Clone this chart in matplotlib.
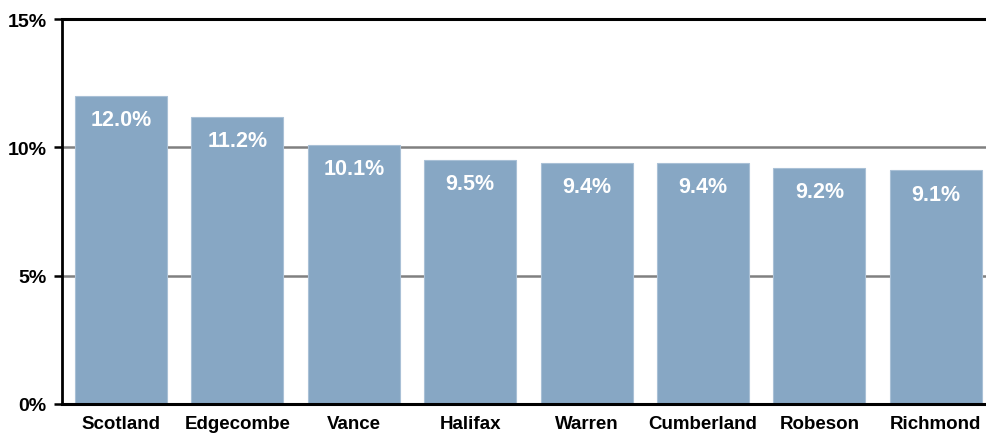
import matplotlib
matplotlib.use("Agg")
import matplotlib.pyplot as plt
from matplotlib.ticker import FuncFormatter

counties = ["Scotland", "Edgecombe", "Vance", "Halifax", "Warren", "Cumberland", "Robeson", "Richmond"]
rates = [12.0, 11.2, 10.1, 9.5, 9.4, 9.4, 9.2, 9.1]
yticks = [0, 5, 10, 15]

plt.rcParams['font.family'] = ['Liberation Sans', 'DejaVu Sans']

fig = plt.figure(figsize=(9.87, 4.35), dpi=100)
ax = fig.add_axes([62/987, 1-405/435, (994-62)/987, (405-20)/435])

bar_color = "#87A7C4"
bars = ax.bar(range(len(counties)), rates, width=0.79, color=bar_color,
              edgecolor="#a9c0d6", linewidth=0.8, zorder=3)

ax.set_xlim(-0.507, len(counties) - 0.5)
ax.set_ylim(0, 15)
ax.set_yticks(yticks)
ax.yaxis.set_major_formatter(FuncFormatter(lambda v, p: f"{v:.0f}%"))

for y in [5, 10]:
    ax.axhline(y, color="#808080", linewidth=1.8, zorder=1)
ax.axhline(15, color="black", linewidth=2.2, zorder=1, clip_on=False)

for i, v in enumerate(rates):
    ax.annotate(f"{v:.1f}%", (i, v), xytext=(0, -17), textcoords="offset points",
                ha="center", va="center", color="white", fontsize=15.5,
                fontweight="bold", zorder=4)

ax.set_xticks(range(len(counties)))
ax.set_xticklabels(counties, fontsize=13.5, fontweight="bold")
ax.tick_params(axis="x", length=0, pad=8)
ax.tick_params(axis="y", length=6, width=1.8, labelsize=14, pad=5, direction="out")
for lbl in ax.get_yticklabels():
    lbl.set_fontweight("bold")

for s in ["top", "right"]:
    ax.spines[s].set_visible(False)
ax.spines["left"].set_linewidth(2)
ax.spines["bottom"].set_linewidth(2.2)
ax.spines["left"].set_zorder(5)
ax.spines["bottom"].set_zorder(5)

fig.savefig("out.png", dpi=100)
